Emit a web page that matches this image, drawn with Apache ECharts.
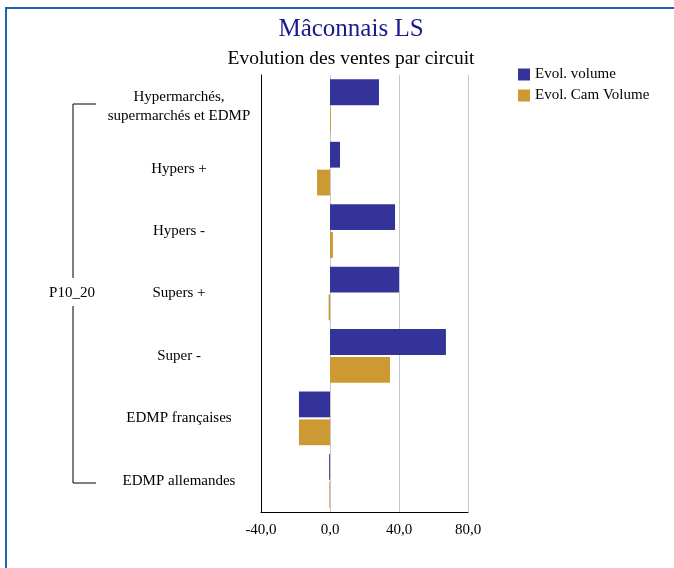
<!DOCTYPE html>
<html><head><meta charset="utf-8">
<script src="https://cdn.jsdelivr.net/npm/echarts@6/dist/echarts.min.js"></script>
<style>html,body{margin:0;padding:0;background:#fff}#c{width:674px;height:568px}</style>
</head><body><div id="c"></div>
<script>
const categories = ["Hypermarchés,\nsupermarchés et EDMP", "Hypers +", "Hypers -", "Supers +", "Super -", "EDMP françaises", "EDMP allemandes"];
const evolVolume = [28.4, 5.8, 37.7, 40.0, 67.2, -18.0, -0.5];
const evolCamVolume = [0.5, -7.5, 1.7, -0.8, 34.8, -18.0, -0.4];
const seriesNames = ["Evol. volume", "Evol. Cam Volume"];
const groupLabel = "P10_20";
const xTicks = [-40, 0, 40, 80];

const FONT = "Liberation Serif";
const chart = echarts.init(document.getElementById('c'), null, {renderer: 'canvas'});
chart.setOption({
  backgroundColor: '#fff',
  textStyle: {fontFamily: FONT},
  title: [
    {text: 'Mâconnais LS', left: 346, top: 12, textAlign: 'center',
     textStyle: {fontFamily: FONT, fontSize: 25, fontWeight: 'normal', color: '#1a1a8c'}},
    {text: 'Evolution des ventes par circuit', left: 346, top: 44, textAlign: 'center',
     textStyle: {fontFamily: FONT, fontSize: 19.5, fontWeight: 'normal', color: '#000'}}
  ],
  legend: {
    orient: 'vertical', left: 513, top: 62, itemWidth: 12, itemHeight: 12, itemGap: 6,
    icon: 'rect',
    textStyle: {fontFamily: FONT, fontSize: 15, color: '#000'},
    data: seriesNames
  },
  grid: {left: 261, right: 206, top: 75, bottom: 56, containLabel: false},
  xAxis: {
    type: 'value', min: xTicks[0], max: xTicks[xTicks.length - 1], interval: 40,
    axisLine: {show: true, lineStyle: {color: '#000', width: 1}},
    axisTick: {show: false},
    splitLine: {show: true, lineStyle: {color: '#c8c8c8', width: 1}},
    axisLabel: {fontFamily: FONT, fontSize: 15, color: '#000', margin: 11,
      formatter: v => v.toFixed(1).replace('.', ',')}
  },
  yAxis: {
    type: 'category', data: categories, inverse: true,
    axisLine: {show: true, onZero: false, lineStyle: {color: '#000', width: 1}},
    axisTick: {show: false},
    axisLabel: {fontFamily: FONT, fontSize: 15, color: '#000', align: 'center', margin: 82, lineHeight: 19}
  },
  series: [
    {name: seriesNames[0], type: 'bar', data: evolVolume, itemStyle: {color: '#333399'},
     barCategoryGap: '14%', barGap: '8%'},
    {name: seriesNames[1], type: 'bar', data: evolCamVolume, itemStyle: {color: '#cc9933'}}
  ],
  graphic: [
    {type: 'rect', shape: {x: 6, y: 8, width: 720, height: 620}, silent: true,
     style: {fill: null, stroke: '#1c63b8', lineWidth: 2}},
    {type: 'polyline', shape: {points: [[96, 104], [73, 104], [73, 278]]},
     style: {stroke: '#000', lineWidth: 1, fill: null}},
    {type: 'polyline', shape: {points: [[73, 306], [73, 483], [96, 483]]},
     style: {stroke: '#000', lineWidth: 1, fill: null}},
    {type: 'text', x: 72, y: 293, style: {text: groupLabel, fontFamily: FONT, fontSize: 15,
      fill: '#000', align: 'center', verticalAlign: 'middle'}}
  ]
});
</script></body></html>
